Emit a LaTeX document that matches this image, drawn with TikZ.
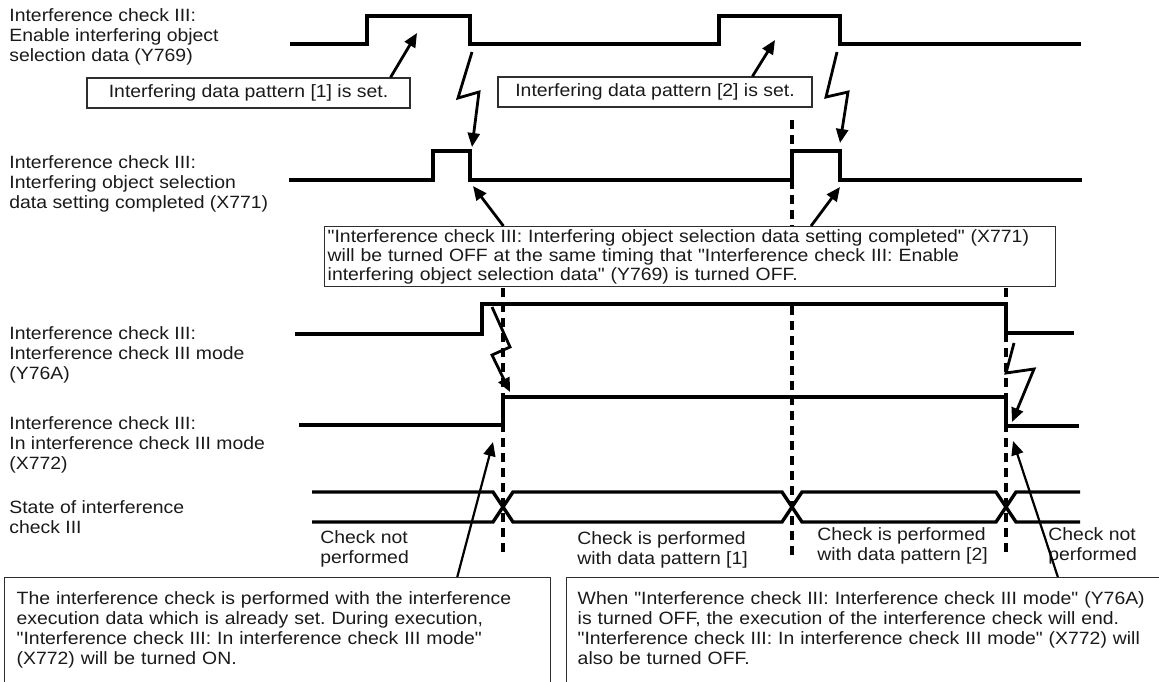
\documentclass[tikz,border=0pt]{standalone}
\usepackage{fontspec}
\setmainfont{Liberation Sans}[FakeStretch=1.09,Ligatures=TeXOff]
\usetikzlibrary{arrows.meta,calc}
\frenchspacing
\definecolor{ctrazo}{HTML}{000000}
\definecolor{cmarco}{HTML}{2E2E2E}
\definecolor{ctexto}{HTML}{1A1A1A}
\tikzset{
  onda/.style={draw=ctrazo,line width=1.7pt,line join=miter},
  guia/.style={draw=ctrazo,line width=1.7pt,dash pattern=on 4.5pt off 3pt},
  rayo/.style={-{Triangle[length=7pt,width=6pt]},draw=ctrazo,line width=1.4pt,line join=miter},
  rayof/.style={rayo,line width=1.1pt},
  txt/.style={anchor=north west,inner sep=0pt,align=left,text=ctexto,
              font=\fontsize{8.9}{10}\selectfont},
  caja/.style={draw=cmarco,line width=0.7pt,fill=white,text=ctexto,
               font=\fontsize{8.9}{10}\selectfont},
}
\begin{document}
\begin{tikzpicture}[x=0.5pt,y=-0.5pt,
  marco/.style={caja,align=center,inner sep=0pt,minimum height=15pt},
  nota/.style={caja,anchor=north west,align=left}]
\useasboundingbox (0,0) rectangle (1159,681);
\clip (0,0) rectangle (1159,681);

% ---------------- nombres de las senales ----------------
\node[txt] (e769) at (9,8)   {Interference check III:\\Enable interfering object\\selection data (Y769)};
\node[txt] (e771) at (9,155) {Interference check III:\\Interfering object selection\\data setting completed (X771)};
\node[txt] (e76a) at (9,326) {Interference check III:\\Interference check III mode\\(Y76A)};
\node[txt] (e772) at (9,416) {Interference check III:\\In interference check III mode\\(X772)};
\node[txt] (eest) at (9,500) {State of interference\\check III};

% ---------------- formas de onda ----------------
\draw[onda] (290,44) -- (367,44) -- (367,16) -- (470,16) -- (470,44) -- (719,44)
            -- (719,16) -- (840,16) -- (840,44) -- (1081,44);
\draw[onda] (289,180) -- (433,180) -- (433,151) -- (470,151) -- (470,180) -- (792,180)
            -- (792,151) -- (840,151) -- (840,180) -- (1082,180);
\draw[onda] (295,334) -- (482,334) -- (482,304) -- (1006,304) -- (1006,333) -- (1074,333);
\draw[onda] (299,425) -- (503,425) -- (503,397) -- (1006,397) -- (1006,426) -- (1079,426);
\draw[onda] (312,492) -- (493,492) -- (513,522) -- (782,522) -- (802,492)
            -- (996,492) -- (1016,522) -- (1080,522);
\draw[onda] (312,522) -- (493,522) -- (513,492) -- (782,492) -- (802,522)
            -- (996,522) -- (1016,492) -- (1080,492);

% ---------------- lineas de referencia ----------------
\draw[guia] (792,120) -- (792,226);
\draw[guia] (792,306) -- (792,556);
\draw[guia] (503,288) -- (503,556);
\draw[guia] (1006,288) -- (1006,556);

% ---------------- cuadros ----------------
\node[marco,minimum width=161.5pt] (c1) at (248.5,93) {Interfering data pattern [1] is set.};
\node[marco,minimum width=157pt]   (c2) at (655,92)   {Interfering data pattern [2] is set.};
\node[nota,inner xsep=1.5pt,inner ysep=1pt,text width=362.5pt,minimum height=30pt,
      font=\fontsize{8.9}{9.5}\selectfont] (n1) at (324,226)
  {"Interference check III: Interfering object selection data setting completed" (X771)\\
   will be turned OFF at the same timing that "Interference check III: Enable\\
   interfering object selection data" (Y769) is turned OFF.};
\node[nota,inner xsep=6pt,inner ysep=7pt,text width=261pt,text depth=50pt] (n2) at (4,577)
  {The interference check is performed with the interference\\
   execution data which is already set. During execution,\\
   "Interference check III: In interference check III mode"\\
   (X772) will be turned ON.};
\node[nota,inner xsep=5.5pt,inner ysep=7pt,text width=300pt,text depth=50pt] (n3) at (566,577)
  {When "Interference check III: Interference check III mode" (Y76A)\\
   is turned OFF, the execution of the interference check will end.\\
   "Interference check III: In interference check III mode" (X772) will\\
   also be turned OFF.};

% ---------------- textos del estado ----------------
\node[txt] (k1) at (320,530)  {Check not\\performed};
\node[txt] (k2) at (577,531)  {Check is performed\\with data pattern [1]};
\node[txt] (k3) at (817,527)  {Check is performed\\with data pattern [2]};
\node[txt] (k4) at (1048,527) {Check not\\performed};

% ---------------- flechas ----------------
\coordinate (p1) at (417,33);
\coordinate (p2) at (775,40);
\coordinate (p3) at (473,186);
\coordinate (p4) at (840,187);
\coordinate (p5) at (493,442);
\coordinate (p6) at (1013,441);
\draw[rayo] ($(c1.north west)!0.938!(c1.north east)$) -- (p1);
\draw[rayo] ($(c2.north west)!0.809!(c2.north east)$) -- (p2);
\draw[rayo] ($(n1.north west)!0.245!(n1.north east)$) -- (p3);
\draw[rayo] ($(n1.north west)!0.665!(n1.north east)$) -- (p4);
\draw[rayof] ($(n2.north west)!0.828!(n2.north east)$) -- (p5);
\draw[rayof] ($(n3.north west)!0.789!(n3.north east)$) -- (p6);

\coordinate (z1a) at (472,52);   \coordinate (z1b) at (472,147);
\coordinate (z2a) at (837,52);   \coordinate (z2b) at (840,143);
\coordinate (z3a) at (492,307);  \coordinate (z3b) at (510,392);
\coordinate (z4a) at (1014,343); \coordinate (z4b) at (1012,422);
\draw[rayo] (z1a) -- (458,98) -- (479,92) -- (z1b);
\draw[rayo] (z2a) -- (826,97) -- (848,92) -- (z2b);
\draw[rayo] (z3a) -- (510,347) -- (492,355) -- (z3b);
\draw[rayo] (z4a) -- (1006,373) -- (1034,369) -- (z4b);

\end{tikzpicture}
\end{document}
